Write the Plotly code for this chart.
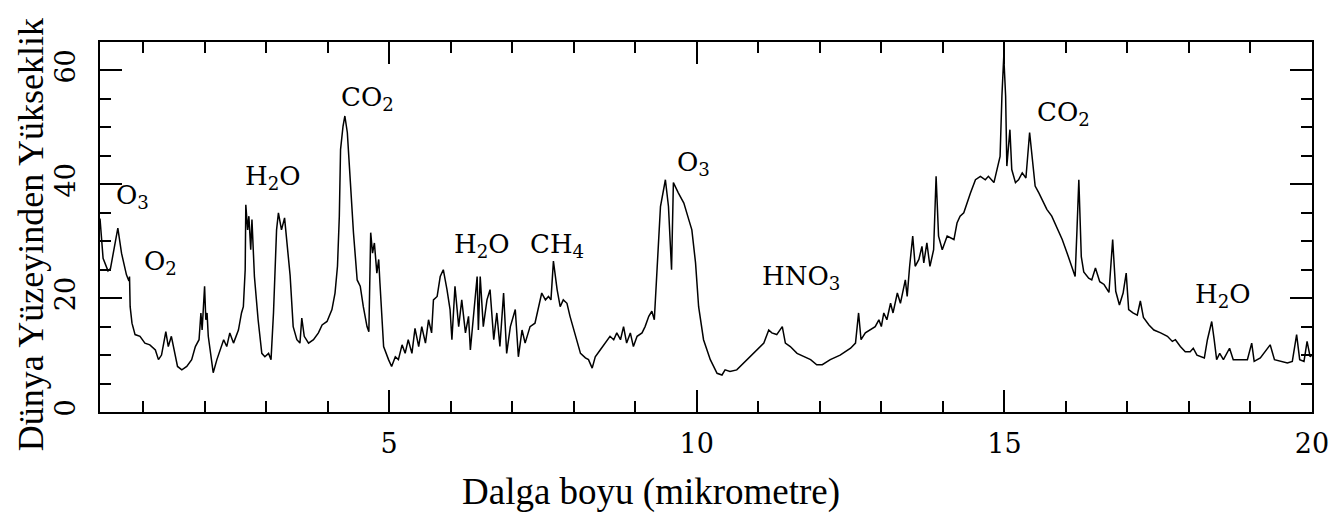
import plotly.graph_objects as go

# Wavelength (micrometre) and height above Earth's surface
wavelength_um = [
    0.30, 0.35, 0.43, 0.47, 0.59, 0.65, 0.73, 0.77, 0.78, 0.79, 0.82, 0.87, 0.95, 1.03, 1.11, 1.20,
    1.25, 1.30, 1.37, 1.41, 1.46, 1.51, 1.56, 1.63, 1.71, 1.79, 1.85, 1.91, 1.94, 1.96, 2.00, 2.02,
    2.04, 2.06, 2.12, 2.14, 2.20, 2.25, 2.31, 2.36, 2.41, 2.47, 2.55, 2.60, 2.63, 2.66, 2.67, 2.70,
    2.72, 2.75, 2.77, 2.81, 2.87, 2.93, 2.98, 3.04, 3.08, 3.12, 3.17, 3.20, 3.23, 3.25, 3.30, 3.34,
    3.36, 3.39, 3.44, 3.50, 3.55, 3.58, 3.62, 3.69, 3.77, 3.85, 3.91, 3.99, 4.07, 4.12, 4.16, 4.19,
    4.21, 4.25, 4.28, 4.32, 4.37, 4.42, 4.48, 4.53, 4.58, 4.64, 4.67, 4.70, 4.73, 4.76, 4.80, 4.83,
    4.85, 4.91, 4.99, 5.04, 5.10, 5.15, 5.21, 5.26, 5.31, 5.37, 5.42, 5.48, 5.53, 5.59, 5.64, 5.69,
    5.72, 5.78, 5.83, 5.88, 5.94, 5.99, 6.02, 6.07, 6.13, 6.18, 6.24, 6.29, 6.32, 6.37, 6.43, 6.45,
    6.48, 6.53, 6.59, 6.64, 6.70, 6.75, 6.80, 6.86, 6.91, 6.97, 7.05, 7.10, 7.16, 7.21, 7.29, 7.37,
    7.42, 7.48, 7.54, 7.59, 7.63, 7.67, 7.73, 7.78, 7.83, 7.89, 7.94, 8.00, 8.05, 8.11, 8.19, 8.24,
    8.30, 8.35, 8.43, 8.51, 8.59, 8.65, 8.70, 8.76, 8.81, 8.86, 8.92, 8.97, 9.03, 9.11, 9.16, 9.22,
    9.27, 9.31, 9.35, 9.41, 9.49, 9.54, 9.59, 9.62, 9.70, 9.79, 9.87, 9.92, 9.98, 10.03, 10.11, 10.22,
    10.33, 10.41, 10.46, 10.54, 10.65, 10.76, 10.87, 10.98, 11.09, 11.17, 11.22, 11.30, 11.39, 11.44,
    11.52, 11.63, 11.74, 11.85, 11.95, 12.04, 12.17, 12.33, 12.50, 12.58, 12.63, 12.67, 12.74, 12.82,
    12.90, 12.96, 13.00, 13.04, 13.09, 13.15, 13.19, 13.26, 13.31, 13.39, 13.42, 13.46, 13.51, 13.55,
    13.61, 13.66, 13.69, 13.74, 13.79, 13.85, 13.89, 13.93, 13.99, 14.07, 14.18, 14.23, 14.28, 14.34,
    14.39, 14.45, 14.53, 14.61, 14.69, 14.74, 14.83, 14.88, 14.93, 14.96, 14.99, 15.02, 15.04, 15.09,
    15.12, 15.18, 15.23, 15.29, 15.35, 15.41, 15.45, 15.50, 15.56, 15.61, 15.69, 15.77, 15.85, 15.94,
    16.02, 16.10, 16.15, 16.18, 16.21, 16.25, 16.29, 16.37, 16.42, 16.48, 16.55, 16.62, 16.70, 16.76,
    16.81, 16.87, 16.93, 16.98, 17.02, 17.09, 17.16, 17.21, 17.26, 17.35, 17.43, 17.54, 17.65, 17.73,
    17.78, 17.86, 17.94, 18.02, 18.07, 18.13, 18.25, 18.30, 18.37, 18.41, 18.45, 18.50, 18.56, 18.66,
    18.72, 18.84, 18.95, 19.02, 19.06, 19.16, 19.24, 19.32, 19.39, 19.49, 19.60, 19.68, 19.75, 19.80,
    19.87, 19.92, 19.97, 20.00,
]
height_km = [
    34.0, 27.0, 24.8, 25.2, 32.3, 27.9, 24.1, 23.0, 23.8, 18.5, 15.6, 13.6, 13.3, 12.1, 11.8, 10.9,
    9.2, 10.0, 14.1, 11.5, 13.3, 10.3, 8.0, 7.4, 8.0, 9.2, 11.5, 12.7, 17.4, 14.4, 22.1, 16.2,
    17.4, 13.3, 8.0, 6.9, 9.2, 10.9, 12.7, 11.5, 13.9, 12.1, 14.4, 17.4, 18.5, 25.0, 36.4, 32.0,
    34.4, 28.5, 33.8, 23.8, 16.2, 10.3, 9.7, 10.3, 9.2, 17.4, 32.0, 35.0, 33.2, 32.0, 34.1, 29.1,
    27.3, 24.0, 15.0, 12.7, 12.1, 16.5, 13.3, 12.1, 12.7, 13.9, 15.3, 15.9, 18.0, 20.9, 25.6, 34.4,
    46.1, 50.2, 52.0, 49.1, 40.3, 31.5, 23.2, 22.1, 18.5, 15.0, 14.1, 31.5, 27.9, 29.7, 24.4, 26.8,
    22.7, 11.5, 9.2, 8.0, 9.7, 9.2, 11.8, 10.3, 12.7, 10.3, 14.7, 11.5, 15.0, 12.1, 16.2, 13.9,
    19.7, 20.3, 23.8, 25.0, 21.5, 18.0, 12.7, 22.1, 15.0, 19.7, 13.9, 16.8, 10.9, 16.8, 23.8, 14.4,
    23.8, 15.0, 19.7, 21.5, 12.7, 17.4, 11.5, 20.9, 10.3, 15.0, 18.0, 9.7, 14.4, 12.1, 15.0, 15.6,
    18.0, 20.9, 19.7, 20.3, 19.7, 26.5, 21.5, 18.5, 19.7, 19.1, 16.8, 14.4, 12.7, 10.3, 9.5, 9.2,
    7.7, 9.7, 10.9, 12.1, 13.3, 12.7, 13.9, 12.7, 15.0, 12.1, 13.9, 11.5, 13.3, 13.9, 15.0, 16.8,
    17.7, 16.2, 24.4, 36.1, 40.8, 36.1, 25.0, 40.3, 38.5, 36.7, 33.8, 32.0, 26.2, 18.5, 12.7, 9.2,
    6.8, 6.5, 7.4, 7.1, 7.4, 8.6, 9.7, 10.9, 12.1, 14.4, 13.9, 13.6, 15.0, 12.1,
    11.5, 10.3, 9.7, 9.2, 8.3, 8.3, 9.2, 10.0, 11.2, 12.1, 17.4, 12.7, 13.9, 14.4,
    15.0, 16.2, 15.0, 17.4, 16.2, 19.1, 17.4, 20.9, 19.1, 23.2, 20.3, 25.6, 30.9, 25.6,
    26.8, 29.1, 26.2, 29.7, 25.6, 28.5, 41.4, 30.9, 28.5, 30.9, 30.3, 33.2, 34.4, 35.0,
    36.7, 38.5, 40.8, 41.4, 40.8, 41.4, 40.3, 42.6, 44.9, 55.5, 62.5, 55.5, 43.2, 49.6,
    42.6, 40.3, 40.8, 42.0, 41.1, 49.1, 44.9, 39.7, 38.5, 37.3, 35.6, 34.4, 32.6, 30.3,
    27.9, 25.6, 23.8, 32.0, 40.8, 27.3, 24.6, 23.5, 23.2, 25.3, 22.9, 22.4, 21.0, 30.3,
    21.2, 18.8, 20.9, 24.4, 18.0, 17.4, 17.0, 19.5, 16.6, 15.3, 14.4, 13.9, 13.3, 12.4,
    12.7, 11.5, 10.6, 10.6, 11.2, 10.0, 9.5, 12.7, 15.9, 12.7, 9.2, 10.3, 9.2, 11.2,
    9.2, 9.2, 9.2, 12.1, 8.9, 9.5, 10.6, 11.8, 9.2, 8.9, 8.6, 8.9, 13.6, 9.2,
    8.9, 12.4, 9.7, 10.0,
]

# Molecule labels and where they sit (wavelength, height)
label_text = ["O<sub>3</sub>", "O<sub>2</sub>", "H<sub>2</sub>O", "CO<sub>2</sub>", "H<sub>2</sub>O",
              "CH<sub>4</sub>", "O<sub>3</sub>", "HNO<sub>3</sub>", "CO<sub>2</sub>", "H<sub>2</sub>O"]
label_x = [0.52, 0.98, 2.63, 4.19, 6.02, 7.26, 9.65, 11.03, 15.50, 18.06]
label_y = [37.9, 26.2, 41.2, 55.1, 29.2, 29.2, 43.7, 23.6, 52.5, 20.4]

x_ticks = [5, 10, 15, 20]
y_ticks = [0, 20, 40, 60]

fig = go.Figure()
fig.add_trace(go.Scatter(x=wavelength_um, y=height_km, mode="lines",
                         line=dict(color="black", width=1.5), showlegend=False))

for t, lx, ly in zip(label_text, label_x, label_y):
    fig.add_annotation(x=lx, y=ly, text=t, showarrow=False, xanchor="left", yanchor="middle",
                       font=dict(family="DejaVu Serif", size=26, color="black"))

fig.add_annotation(xref="paper", yref="paper", x=0.4545, y=-0.215, text="Dalga boyu (mikrometre)",
                   showarrow=False, xanchor="center", yanchor="middle",
                   font=dict(family="Liberation Serif", size=37, color="black"))
fig.add_annotation(xref="paper", yref="paper", x=-0.057, y=0.480, text="Dünya Yüzeyinden Yükseklik",
                   showarrow=False, xanchor="center", yanchor="middle", textangle=-90,
                   font=dict(family="Liberation Serif", size=36, color="black"))

axis_common = dict(showgrid=False, zeroline=False, showline=True, linecolor="black", linewidth=2,
                   mirror="ticks", ticks="inside", ticklen=22, tickwidth=1.5, tickcolor="black",
                   tickfont=dict(family="DejaVu Serif", size=27, color="black"))

fig.update_xaxes(range=[0.3, 20], tickmode="array", tickvals=x_ticks, ticklabelstandoff=7,
                 minor=dict(dtick=1, tick0=0, ticks="inside", ticklen=11, tickwidth=1.5, tickcolor="black"),
                 **axis_common)
fig.update_yaxes(range=[0, 65], tickmode="array", tickvals=y_ticks, tickangle=-90, ticklabelstandoff=12,
                 minor=dict(dtick=5, tick0=0, ticks="inside", ticklen=11, tickwidth=1.5, tickcolor="black"),
                 **axis_common)

# The page adds an 8px body margin, so the figure is 8px smaller than the window on each axis
fig.update_layout(width=1336, height=506, margin=dict(l=92, r=32, t=34, b=102),
                  plot_bgcolor="white", paper_bgcolor="white")

fig.write_html("out.html")
